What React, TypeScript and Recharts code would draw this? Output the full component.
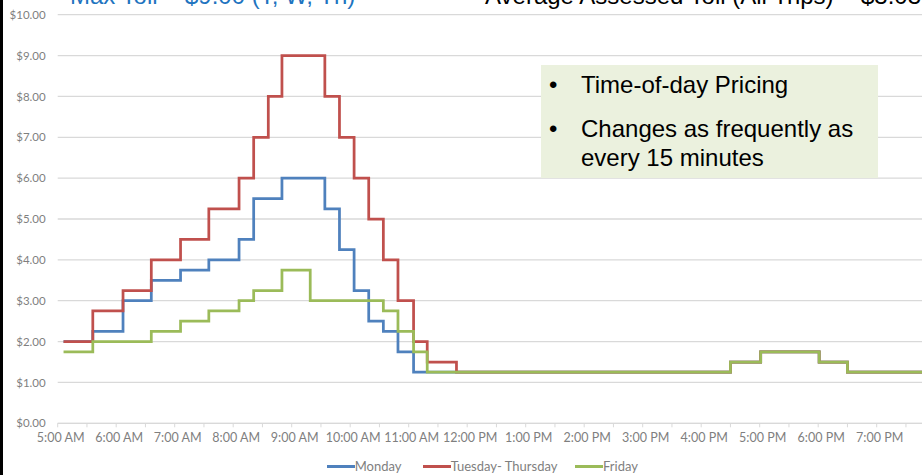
import React from 'react';
import { LineChart, Line, XAxis, YAxis, CartesianGrid, Legend } from 'recharts';

// Times (minutes after midnight) at which a toll level starts
const changeTimes = [306, 336, 367, 396, 426, 455, 486, 501, 516, 530, 559, 574, 589, 604, 619, 634, 649, 665, 679, 709, 990, 1021, 1081, 1110, 1200];
const monday = [2.0, 2.25, 3.0, 3.5, 3.75, 4.0, 4.5, 5.5, 5.5, 6.0, 6.0, 5.25, 4.25, 3.25, 2.5, 2.25, 1.75, 1.25, 1.25, 1.25, 1.5, 1.75, 1.5, 1.25, 1.25];
const tuesdayThursday = [2.0, 2.75, 3.25, 4.0, 4.5, 5.25, 6.0, 7.0, 8.0, 9.0, 9.0, 8.0, 7.0, 6.0, 5.0, 4.0, 3.0, 2.0, 1.5, 1.25, 1.5, 1.75, 1.5, 1.25, 1.25];
const friday = [1.75, 2.0, 2.0, 2.25, 2.5, 2.75, 3.0, 3.25, 3.25, 3.75, 3.0, 3.0, 3.0, 3.0, 3.0, 2.75, 2.25, 1.75, 1.25, 1.25, 1.5, 1.75, 1.5, 1.25, 1.25];

const seriesKeys = ['monday', 'tuesdayThursday', 'friday'];
const seriesNames = ['Monday', 'Tuesday- Thursday', 'Friday'];
const seriesColors = ['#4F81BD', '#C0504D', '#9BBB59'];

const priceTicks = [0, 1, 2, 3, 4, 5, 6, 7, 8, 9, 10];
const timeTicks = [300, 330, 360, 390, 420, 450, 480, 510, 540, 570, 600, 630, 660, 690, 720, 750, 780, 810, 840, 870, 900, 930, 960, 990, 1020, 1050, 1080, 1110, 1140, 1170];

const headline = 'Max Toll = $9.00 (T, W, Th)';
const averageText = 'Average Assessed Toll (All Trips) = $3.03';
const noteBullets = [['Time-of-day Pricing'], ['Changes as frequently as', 'every 15 minutes']];

const tableData = changeTimes.map((t, i) => ({
  t,
  monday: monday[i],
  tuesdayThursday: tuesdayThursday[i],
  friday: friday[i],
}));

const fmtTime = (m: number) => {
  if (m % 60 !== 0) return '';
  const h24 = m / 60;
  const suffix = h24 >= 12 ? 'PM' : 'AM';
  const h = h24 % 12 === 0 ? 12 : h24 % 12;
  return `${h}:00 ${suffix}`;
};
const fmtPrice = (v: number) => `$${v.toFixed(2)}`;

const AXIS_FONT = 'Lato, "Open Sans", sans-serif';
const TEXT_GRAY = '#7F7F7F';
const legendLefts = [326.7, 422.7, 575];

const LegendContent = () => (
  <div style={{ position: 'relative', height: 22, width: 936 }}>
    {seriesNames.map((n, i) => (
      <div
        key={n}
        style={{ position: 'absolute', left: legendLefts[i], top: 2, height: 22, display: 'flex', alignItems: 'center' }}
      >
        <span style={{ display: 'inline-block', width: 28, height: 3, background: seriesColors[i] }} />
        <span style={{ fontFamily: AXIS_FONT, fontSize: 13, color: TEXT_GRAY, whiteSpace: 'nowrap' }}>{n}</span>
      </div>
    ))}
  </div>
);

const ARIAL = '"Liberation Sans", Arial, sans-serif';

export default function App() {
  return (
    <div style={{ position: 'fixed', left: 0, top: 0, width: 922, height: 475, overflow: 'hidden', background: '#fff' }}>
      <LineChart width={936} height={475} data={tableData} margin={{ top: 14.7, right: 0.8, bottom: 0, left: 0 }}>
        <CartesianGrid horizontal vertical={false} stroke="#D9D9D9" strokeWidth={1.3} />
        <XAxis
          dataKey="t"
          type="number"
          domain={[300, 1200]}
          ticks={timeTicks}
          tickFormatter={fmtTime}
          interval={0}
          height={29.7}
          tickSize={4}
          tickMargin={6}
          stroke="#D9D9D9"
          tick={{ fill: TEXT_GRAY, fontSize: 12.5, fontFamily: AXIS_FONT, dx: 3 }}
          allowDataOverflow
        />
        <YAxis
          type="number"
          domain={[0, 10]}
          ticks={priceTicks}
          tickFormatter={fmtPrice}
          width={57.7}
          axisLine={false}
          tickLine={false}
          tickSize={0}
          tickMargin={12}
          tick={{ fill: TEXT_GRAY, fontSize: 11.5, fontFamily: AXIS_FONT }}
        />
        <Legend verticalAlign="bottom" content={<LegendContent />} />
        {seriesKeys.map((k, i) => (
          <Line
            key={k}
            dataKey={k}
            name={seriesNames[i]}
            type="stepAfter"
            stroke={seriesColors[i]}
            strokeWidth={2.75}
            dot={false}
            activeDot={false}
            isAnimationActive={false}
          />
        ))}
      </LineChart>
      <div style={{ position: 'absolute', left: 0, top: 0, width: 3, height: 475, background: '#000' }} />
      <div
        style={{ position: 'absolute', left: 70, top: -15.8, fontFamily: ARIAL, fontSize: 24, lineHeight: '24px', color: '#1F74C0', whiteSpace: 'nowrap' }}
      >
        {headline}
      </div>
      <div
        style={{ position: 'absolute', left: 485, top: -15.8, fontFamily: ARIAL, fontSize: 24, lineHeight: '24px', color: '#000', whiteSpace: 'nowrap' }}
      >
        {averageText}
      </div>
      <div style={{ position: 'absolute', left: 541, top: 65, width: 337, height: 113, background: '#EBF1DE' }} />
      {noteBullets.map((lines, bi) =>
        lines.map((line, li) => {
          const top = bi === 0 ? 73 : li === 0 ? 117 : 146.4;
          return (
            <React.Fragment key={`${bi}-${li}`}>
              {li === 0 && (
                <div style={{ position: 'absolute', left: 549, top, fontFamily: ARIAL, fontSize: 24, lineHeight: '24px', color: '#000' }}>•</div>
              )}
              <div style={{ position: 'absolute', left: 581, top, fontFamily: ARIAL, fontSize: 24, lineHeight: '24px', color: '#000', whiteSpace: 'nowrap' }}>
                {line}
              </div>
            </React.Fragment>
          );
        })
      )}
    </div>
  );
}
